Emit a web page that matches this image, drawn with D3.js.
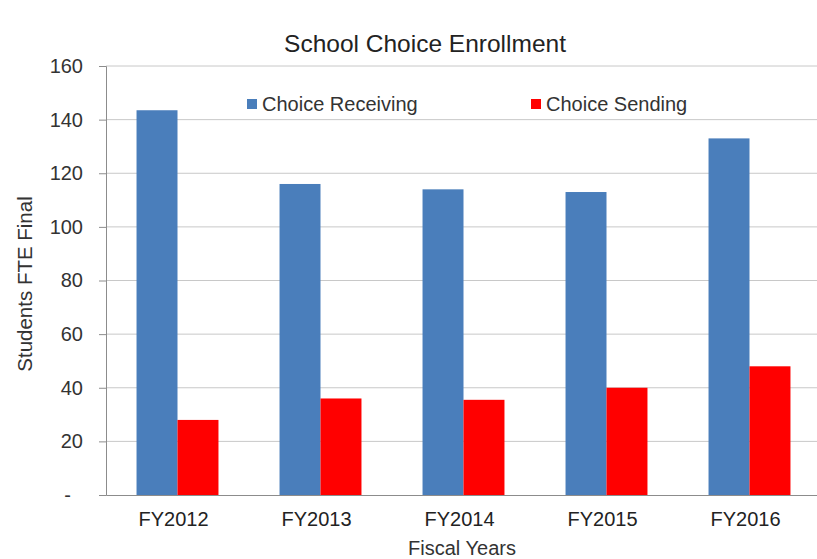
<!DOCTYPE html>
<html>
<head>
<meta charset="utf-8">
<script src="https://cdn.jsdelivr.net/npm/d3@7"></script>
<style>
  html, body { margin: 0; padding: 0; background: #fff; overflow: hidden; }
  svg { display: block; font-family: "Liberation Sans", Arial, sans-serif; }
</style>
</head>
<body>
<svg id="chart" width="817" height="559"></svg>
<script>
// Fiscal years and enrollment (students FTE)
const categories = ["FY2012", "FY2013", "FY2014", "FY2015", "FY2016"];
const seriesNames = ["Choice Receiving", "Choice Sending"];
const choiceReceiving = [143.5, 116, 114, 113, 133];
const choiceSending = [28, 36, 35.5, 40, 48];
const yTicks = [0, 20, 40, 60, 80, 100, 120, 140, 160];
const colors = ["#4a7ebb", "#ff0000"];

const svg = d3.select("#chart");
const W = 817, H = 559;
const plot = { left: 106, right: 821, top: 66, bottom: 495 };

const x = d3.scaleBand()
  .domain(categories)
  .range([plot.left, plot.right])
  .paddingInner(0.427)
  .paddingOuter(0.2135);
const xs = d3.scaleBand().domain(seriesNames).range([0, x.bandwidth()]);
const y = d3.scaleLinear().domain([0, 160]).range([plot.bottom, plot.top]);

// horizontal gridlines
svg.append("g")
  .selectAll("line")
  .data(yTicks.slice(1))
  .join("line")
  .attr("x1", plot.left).attr("x2", plot.right)
  .attr("y1", d => y(d)).attr("y2", d => y(d))
  .attr("stroke", "#c8c8c8").attr("stroke-width", 1);

// bars
const rows = categories.map((c, i) => ({ c, vals: [choiceReceiving[i], choiceSending[i]] }));
svg.append("g")
  .selectAll("g")
  .data(rows)
  .join("g")
  .attr("transform", d => `translate(${x(d.c)},0)`)
  .selectAll("rect")
  .data(d => d.vals.map((v, k) => ({ v, k })))
  .join("rect")
  .attr("x", d => xs(seriesNames[d.k]))
  .attr("width", xs.bandwidth())
  .attr("y", d => y(d.v))
  .attr("height", d => y(0) - y(d.v))
  .attr("fill", d => colors[d.k]);

// y axis (zero shown as an accounting-style dash)
const yAxis = d3.axisLeft(y)
  .tickValues(yTicks)
  .tickSize(7)
  .tickPadding(16)
  .tickFormat(d => d === 0 ? "-" : d);
const gy = svg.append("g").attr("transform", `translate(${plot.left},0)`).call(yAxis);
gy.select(".domain").attr("stroke", "#8c8c8c");
gy.selectAll(".tick line").attr("stroke", "#8c8c8c");
gy.selectAll(".tick text").attr("font-size", 20).attr("fill", "#333")
  .attr("font-family", "Liberation Sans, Arial, sans-serif")
  .attr("dx", d => d === 0 ? -12 : 0);

// x axis
const xAxis = d3.axisBottom(x).tickSize(0).tickPadding(17);
const gx = svg.append("g").attr("transform", `translate(0,${y(0)})`).call(xAxis);
gx.select(".domain").attr("stroke", "#8c8c8c");
gx.selectAll(".tick text").attr("font-size", 20).attr("fill", "#222")
  .attr("font-family", "Liberation Sans, Arial, sans-serif")
  .attr("dx", -4);

// title
svg.append("text")
  .attr("x", 425).attr("y", 52)
  .attr("text-anchor", "middle")
  .attr("font-size", 24.5).attr("fill", "#222")
  .text("School Choice Enrollment");

// axis titles
svg.append("text")
  .attr("transform", `translate(32,284) rotate(-90)`)
  .attr("text-anchor", "middle")
  .attr("font-size", 20.5).attr("fill", "#333")
  .text("Students FTE Final");
svg.append("text")
  .attr("x", 462).attr("y", 555)
  .attr("text-anchor", "middle")
  .attr("font-size", 20).attr("fill", "#333")
  .text("Fiscal Years");

// legend
const legendX = [247, 531];
const lg = svg.append("g").selectAll("g")
  .data(seriesNames)
  .join("g")
  .attr("transform", (d, i) => `translate(${legendX[i]},103)`);
lg.append("rect").attr("x", 0).attr("y", -4).attr("width", 10).attr("height", 10)
  .attr("fill", (d, i) => colors[i]);
lg.append("text").attr("x", 15).attr("y", 8)
  .attr("font-size", 20).attr("fill", "#333")
  .text(d => d);
</script>
</body>
</html>
